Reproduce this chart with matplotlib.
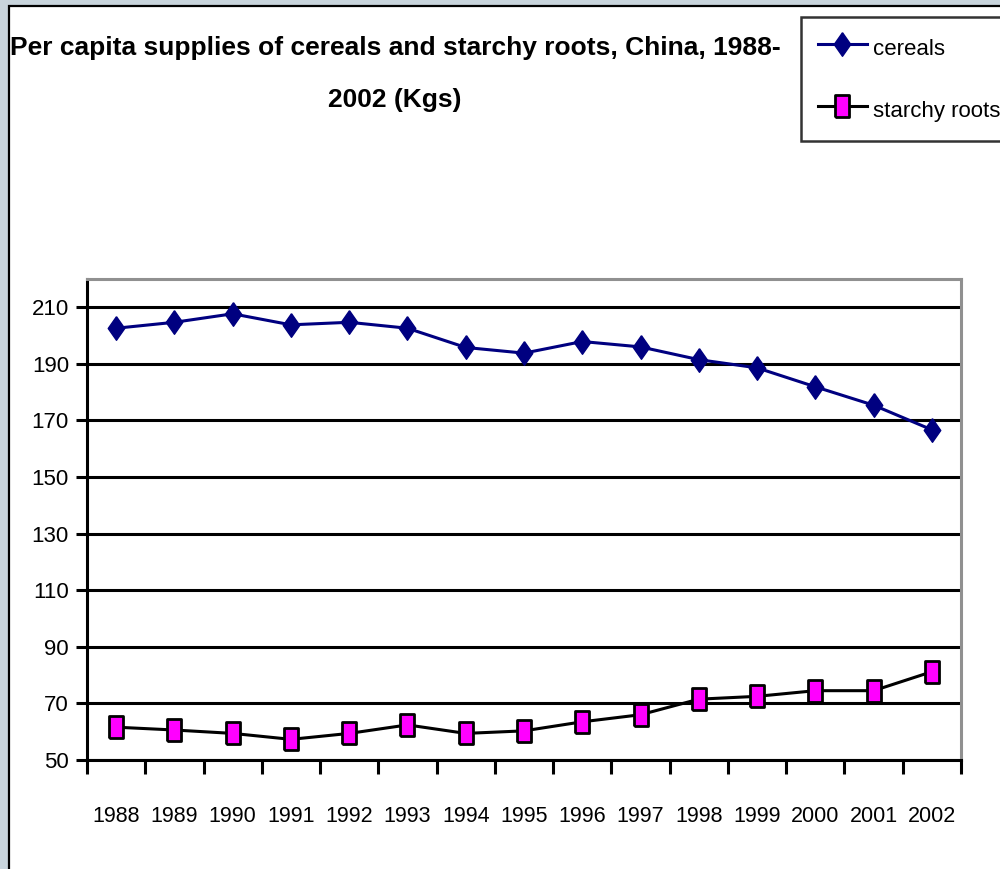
import matplotlib
matplotlib.use("Agg")
import matplotlib.pyplot as plt
from matplotlib.patches import Rectangle
from matplotlib.lines import Line2D

years = ["1988", "1989", "1990", "1991", "1992", "1993", "1994", "1995",
         "1996", "1997", "1998", "1999", "2000", "2001", "2002"]
cereals = [202.6, 204.7, 207.7, 203.8, 204.7, 202.6, 195.8, 193.8,
           197.9, 196.0, 191.5, 188.6, 181.9, 175.4, 166.7]
starchy_roots = [61.6, 60.6, 59.4, 57.3, 59.4, 62.4, 59.4, 60.3,
                 63.5, 66.0, 71.5, 72.5, 74.5, 74.5, 81.2]
yticks = [50, 70, 90, 110, 130, 150, 170, 190, 210]

FONT = ["Liberation Sans", "DejaVu Sans"]
plt.rcParams['font.family'] = FONT

W, H = 1000, 869
fig = plt.figure(figsize=(W / 100, H / 100), dpi=100)
fig.patch.set_facecolor("#C8D4DC")

# white panel with black border
panel = Rectangle((9 / W, -0.05), 1.1, 1 - 6 / H + 0.05, transform=fig.transFigure,
                  facecolor="white", edgecolor="black", linewidth=1.6, zorder=-5)
fig.patches.append(panel)

left, right, top, bottom = 87, 961, 279, 760
ax = fig.add_axes([left / W, 1 - bottom / H, (right - left) / W, (bottom - top) / H])
ax.set_zorder(2)
ax.set_facecolor("white")

diamond = [(0, 1), (0.7, 0), (0, -1), (-0.7, 0), (0, 1)]
rect_marker = [(-0.66, -1), (0.66, -1), (0.66, 1), (-0.66, 1), (-0.66, -1)]

x = list(range(len(years)))
ax.plot(x, cereals, color="#000080", linewidth=2.2, marker=diamond,
        markersize=17, markerfacecolor="#000080", markeredgecolor="#000080",
        zorder=3, clip_on=False)
ax.plot(x, starchy_roots, color="black", linewidth=2.2, marker=rect_marker,
        markersize=16, markerfacecolor="#FF00FF", markeredgecolor="black",
        markeredgewidth=2.0, zorder=3, clip_on=False)

ax.set_xlim(-0.5, len(years) - 0.5)
ax.set_ylim(50, 220)
ax.set_yticks(yticks)
ax.set_yticklabels([str(v) for v in yticks])
for v in yticks:
    ax.axhline(v, color="black", linewidth=2.2, zorder=1)

ax.set_xticks([i - 0.5 for i in range(len(years) + 1)])
ax.set_xticklabels([])
ax.set_xticks(x, minor=True)
ax.set_xticklabels(years, minor=True)
ax.tick_params(axis="x", which="major", direction="out", length=10, width=2.2,
               color="black")
ax.tick_params(axis="x", which="minor", length=0, pad=33, labelsize=15.5)
ax.tick_params(axis="y", direction="out", length=8, width=2.2, labelsize=16, pad=5)

for s in ["left", "bottom"]:
    ax.spines[s].set_color("black")
    ax.spines[s].set_linewidth(2.2)
for s in ["top", "right"]:
    ax.spines[s].set_color("#909090")
    ax.spines[s].set_linewidth(2.2)

fig.text(395 / W, 1 - 48 / H,
         "Per capita supplies of cereals and starchy roots, China, 1988-",
         ha="center", va="center", fontsize=19, fontweight="bold")
fig.text(395 / W, 1 - 100 / H, "2002 (Kgs)",
         ha="center", va="center", fontsize=19, fontweight="bold")

handles = [
    Line2D([], [], color="#000080", linewidth=2.2, marker=diamond, markersize=17,
           markerfacecolor="#000080", markeredgecolor="#000080"),
    Line2D([], [], color="black", linewidth=2.2, marker=rect_marker, markersize=16,
           markerfacecolor="#FF00FF", markeredgecolor="black", markeredgewidth=2.0),
]
leg = fig.legend(handles, ["cereals", "starchy roots"], loc="upper left",
                 bbox_to_anchor=(801 / W, 1 - 17 / H), fontsize=16,
                 frameon=True, fancybox=False, edgecolor="black",
                 handlelength=2.2, handleheight=1.6, handletextpad=0.3,
                 labelspacing=1.5, borderpad=0.75, borderaxespad=0)
leg.get_frame().set_linewidth(1.8)

fig.savefig("out.png", dpi=100, facecolor=fig.get_facecolor())
